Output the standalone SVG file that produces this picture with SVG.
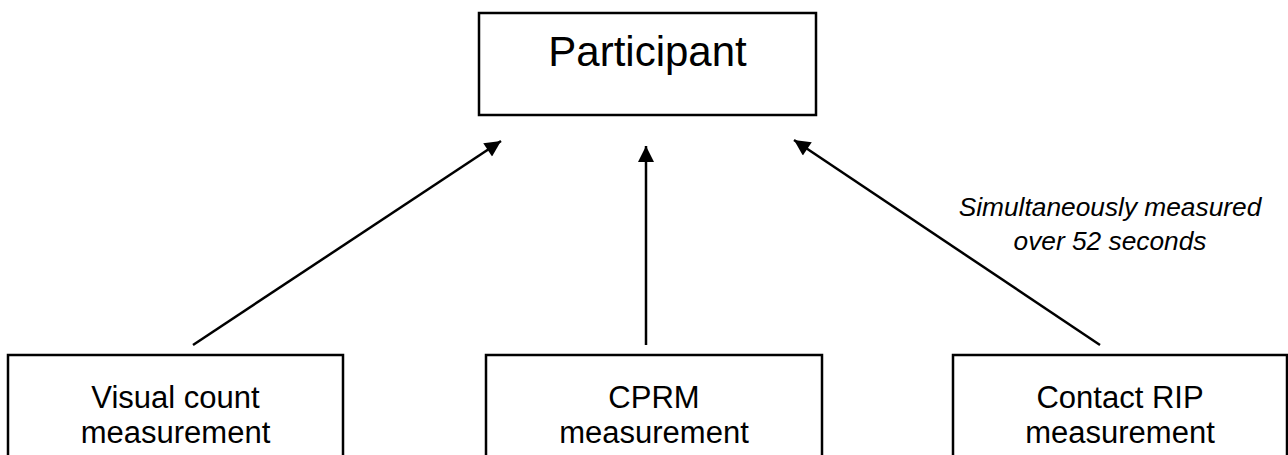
<svg xmlns="http://www.w3.org/2000/svg" width="1288" height="455" viewBox="0 0 1288 455">
<defs>
<style>
.box{fill:#fff;stroke:#000;stroke-width:2.5}
.t{font-family:"Liberation Sans",Arial,sans-serif;fill:#000;text-anchor:middle}
.c{stroke:#000;stroke-width:2.5;fill:none;marker-end:url(#ah)}
</style>
<marker id="ah" viewBox="0 0 10 10" refX="10" refY="5" markerWidth="7" markerHeight="6.4" markerUnits="strokeWidth" orient="auto">
<path d="M0,0 L10,5 L0,10 z" fill="#000"/>
</marker>
</defs>
<rect width="1288" height="455" fill="#fff"/>
<g id="participant">
<rect class="box" x="479" y="13" width="337" height="102"/>
<text class="t" x="647.5" y="66" font-size="42">Participant</text>
</g>
<g id="visual">
<rect class="box" x="8" y="355" width="335" height="110"/>
<text class="t" x="175.5" y="408" font-size="31">Visual count</text>
<text class="t" x="175.5" y="443" font-size="31">measurement</text>
</g>
<g id="cprm">
<rect class="box" x="486" y="355" width="336" height="110"/>
<text class="t" x="654" y="408" font-size="31">CPRM</text>
<text class="t" x="654" y="443" font-size="31">measurement</text>
</g>
<g id="rip">
<rect class="box" x="953" y="355" width="334" height="110"/>
<text class="t" x="1120" y="408" font-size="31">Contact RIP</text>
<text class="t" x="1120" y="443" font-size="31">measurement</text>
</g>
<g id="connectors">
<line class="c" x1="193" y1="345" x2="501" y2="141"/>
<line class="c" x1="646" y1="345" x2="646" y2="146"/>
<line class="c" x1="1100" y1="345" x2="794" y2="140"/>
</g>
<g id="label">
<text class="t" x="1110" y="216" font-size="26.3" font-style="italic">Simultaneously measured</text>
<text class="t" x="1110" y="250" font-size="26.3" font-style="italic">over 52 seconds</text>
</g>
</svg>
